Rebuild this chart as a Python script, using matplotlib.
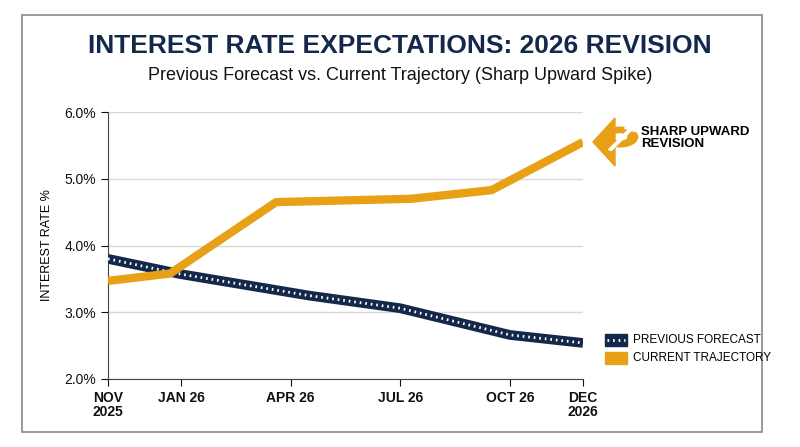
import matplotlib.pyplot as plt
from matplotlib.patches import Rectangle, Wedge, FancyArrow, Polygon

NAVY = "#14284b"
ORANGE = "#e8a117"
INK = "#111111"
GRID = "#d9d9d9"
FRAME = "#8a8a8a"

# months since Nov 2025
prev_x = [0, 2, 5.5, 8, 11, 13]
prev_y = [3.80, 3.57, 3.25, 3.06, 2.66, 2.54]
curr_x = [0, 1.7, 4.6, 8.3, 10.5, 13]
curr_y = [3.47, 3.58, 4.65, 4.70, 4.83, 5.55]
tick_x = [0, 2, 5, 8, 11, 13]
tick_labels = ["NOV\n2025", "JAN 26", "APR 26", "JUL 26", "OCT 26", "DEC\n2026"]
y_ticks = [2.0, 3.0, 4.0, 5.0, 6.0]

plt.rcParams["font.family"] = ["Liberation Sans", "DejaVu Sans"]
fig = plt.figure(figsize=(8, 4.47), dpi=100)
fig.patch.set_facecolor("white")
fig.add_artist(Rectangle((22 / 800, 15 / 447), 740 / 800, 417 / 447, transform=fig.transFigure,
                         fill=False, edgecolor=FRAME, linewidth=1.2))

ax = fig.add_axes([108 / 800, 68 / 447, 475 / 800, 267 / 447])
ax.set_xlim(0, 13)
ax.set_ylim(2.0, 6.0)
ax.set_yticks(y_ticks)
ax.set_yticklabels([f"{v:.1f}%" for v in y_ticks], fontsize=10)
ax.set_xticks(tick_x)
ax.set_xticklabels(tick_labels, fontsize=10, fontweight="bold", linespacing=1.0)
ax.grid(axis="y", color=GRID, linewidth=1)
ax.set_axisbelow(True)
for s in ("top", "right"):
    ax.spines[s].set_visible(False)
for s in ("left", "bottom"):
    ax.spines[s].set_color("#444444")
ax.tick_params(colors=INK, length=5)
ax.set_ylabel("INTEREST RATE %", fontsize=9, labelpad=8)

ax.plot(prev_x, prev_y, color=NAVY, linewidth=7, solid_capstyle="butt", zorder=3)
ax.plot(prev_x, prev_y, color="white", linewidth=2, linestyle=(0, (0.6, 1.4)), zorder=4)
ax.plot(curr_x, curr_y, color=ORANGE, linewidth=6, solid_capstyle="butt", zorder=5)

# revision icon
fig.add_artist(Wedge((620 / 800, 1 - 137 / 447), 0.022, -120, 120, width=0.012,
                     transform=fig.transFigure, color=ORANGE))
fig.add_artist(Polygon([(593 / 800, 1 - 142 / 447), (615 / 800, 1 - 118 / 447), (615 / 800, 1 - 166 / 447)],
                       transform=fig.transFigure, color=ORANGE))
fig.add_artist(FancyArrow(610 / 800, 1 - 150 / 447, 0.025, 0.045, width=0.004, head_width=0.016,
                          head_length=0.016, transform=fig.transFigure, color="white"))
fig.text(641 / 800, 1 - 138 / 447, "SHARP UPWARD\nREVISION", fontsize=9.5, fontweight="bold",
         va="center", ha="left", linespacing=1.1)

# legend
fig.add_artist(Rectangle((605 / 800, 1 - 346 / 447), 22 / 800, 12 / 447, transform=fig.transFigure, color=NAVY))
fig.add_artist(plt.Line2D([607 / 800, 625 / 800], [1 - 340 / 447] * 2, transform=fig.transFigure,
                          color="white", linewidth=2, linestyle=(0, (0.6, 1.4))))
fig.add_artist(Rectangle((605 / 800, 1 - 364 / 447), 22 / 800, 12 / 447, transform=fig.transFigure, color=ORANGE))
fig.text(633 / 800, 1 - 340 / 447, "PREVIOUS FORECAST", fontsize=8.5, va="center")
fig.text(633 / 800, 1 - 358 / 447, "CURRENT TRAJECTORY", fontsize=8.5, va="center")

fig.text(0.5, 1 - 46 / 447, "INTEREST RATE EXPECTATIONS: 2026 REVISION", ha="center", va="center",
         fontsize=19, fontweight="bold", color=NAVY)
fig.text(0.5, 1 - 75 / 447, "Previous Forecast vs. Current Trajectory (Sharp Upward Spike)", ha="center",
         va="center", fontsize=13, color=INK)

fig.savefig("out.png", dpi=100, facecolor="white")
